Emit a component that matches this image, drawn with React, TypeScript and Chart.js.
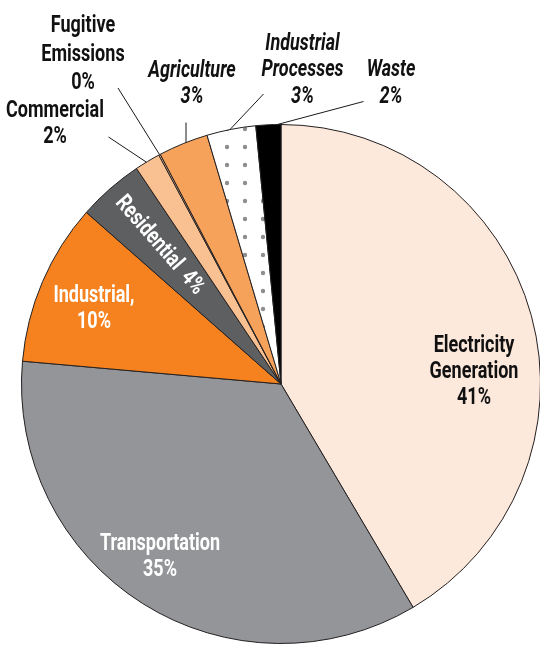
import React, { useEffect, useRef } from "react";
import { Chart, registerables } from "chart.js";

Chart.register(...registerables);

// ---- data ----
const categories = [
  "Electricity Generation",
  "Transportation",
  "Industrial",
  "Residential",
  "Commercial",
  "Fugitive Emissions",
  "Agriculture",
  "Industrial Processes",
  "Waste",
];
const shares = [41.5, 34.9, 10.1, 4.1, 1.6, 0.1, 3.1, 3.05, 1.55];
const percentLabels = ["41%", "35%", "10%", "4%", "2%", "0%", "3%", "3%", "2%"];
const sliceColors = [
  "#fde9dc",
  "#939598",
  "#f5821f",
  "#5e5f61",
  "#f9c092",
  "#f9c092",
  "#f7a25b",
  "pattern",
  "#000000",
];

// ---- label layout (text annotations) ----
type LabelSpec = {
  i: number;
  name: string[];
  x: number;
  y: number;
  lh: number;
  color: string;
  italic?: boolean;
  leader?: { x: number; y: number; t: number };
};
const labelLayout: LabelSpec[] = [
  { i: 0, name: ["Electricity", "Generation"], x: 474, y: 351.7, lh: 26.2, color: "#111111" },
  { i: 1, name: ["Transportation"], x: 160, y: 550, lh: 26, color: "#ffffff" },
  { i: 2, name: ["Industrial,"], x: 94, y: 301.7, lh: 26, color: "#ffffff" },
  { i: 4, name: ["Commercial"], x: 55, y: 117.3, lh: 26, color: "#111111", leader: { x: 108.5, y: 137, t: 0.45 } },
  { i: 5, name: ["Fugitive", "Emissions"], x: 83, y: 31.7, lh: 28.8, color: "#111111", leader: { x: 118, y: 88, t: 0.5 } },
  { i: 6, name: ["Agriculture"], x: 192, y: 76.7, lh: 26.6, color: "#111111", italic: true, leader: { x: 186, y: 122.5, t: 0.56 } },
  { i: 7, name: ["Industrial", "Processes"], x: 302.5, y: 50, lh: 26.4, color: "#111111", italic: true, leader: { x: 263.5, y: 94, t: 0.475 } },
  { i: 8, name: ["Waste"], x: 391, y: 76, lh: 26.7, color: "#111111", italic: true, leader: { x: 363.5, y: 101.5, t: 0.85 } },
];
const rotatedLabel = { i: 3, text: "Residential  4%", rFrac: 0.71, color: "#ffffff" };

const FONT_FAMILY = "Roboto, 'Liberation Sans', sans-serif";
const FONT_SIZE = 23;

function makeDotPattern(): CanvasPattern | string {
  const tile = document.createElement("canvas");
  tile.width = 18;
  tile.height = 18;
  const c = tile.getContext("2d");
  if (!c) return "#ffffff";
  c.fillStyle = "#ffffff";
  c.fillRect(0, 0, 18, 18);
  c.fillStyle = "#8e8e8e";
  c.beginPath();
  c.arc(11, 3, 2.2, 0, Math.PI * 2);
  c.fill();
  const p = c.createPattern(tile, "repeat");
  return p || "#ffffff";
}

const labelsPlugin = {
  id: "pieLabels",
  afterDatasetsDraw(chart: any) {
    const ctx: CanvasRenderingContext2D = chart.ctx;
    const meta = chart.getDatasetMeta(0);
    const arcs = meta.data;
    ctx.save();
    ctx.font = `bold ${FONT_SIZE}px ${FONT_FAMILY}`;
    const sx = 120 / ctx.measureText("Transportation").width;

    const drawText = (s: string, x: number, y: number) => {
      ctx.save();
      ctx.translate(x, y);
      ctx.scale(sx, 1);
      ctx.fillText(s, 0, 0);
      ctx.restore();
    };

    ctx.textAlign = "center";
    ctx.textBaseline = "alphabetic";

    // leader lines
    ctx.strokeStyle = "#1a1a1a";
    ctx.lineWidth = 1;
    for (const L of labelLayout) {
      if (!L.leader) continue;
      const a = arcs[L.i].getProps(["x", "y", "startAngle", "endAngle", "outerRadius"], true);
      const ang = a.startAngle + (a.endAngle - a.startAngle) * L.leader.t;
      const ex = a.x + Math.cos(ang) * a.outerRadius;
      const ey = a.y + Math.sin(ang) * a.outerRadius;
      ctx.beginPath();
      ctx.moveTo(L.leader.x, L.leader.y);
      ctx.lineTo(ex, ey);
      ctx.stroke();
    }

    for (const L of labelLayout) {
      ctx.font = `${L.italic ? "italic " : ""}bold ${FONT_SIZE}px ${FONT_FAMILY}`;
      ctx.fillStyle = L.color;
      const lines = [...L.name, percentLabels[L.i]];
      lines.forEach((s, k) => drawText(s, L.x, L.y + k * L.lh));
    }

    // rotated residential label
    const r = arcs[rotatedLabel.i].getProps(["x", "y", "startAngle", "endAngle", "outerRadius"], true);
    const mid = (r.startAngle + r.endAngle) / 2;
    const rr = r.outerRadius * rotatedLabel.rFrac;
    ctx.save();
    ctx.translate(r.x + Math.cos(mid) * rr, r.y + Math.sin(mid) * rr);
    ctx.rotate(mid + Math.PI);
    ctx.font = `bold ${FONT_SIZE}px ${FONT_FAMILY}`;
    ctx.fillStyle = rotatedLabel.color;
    ctx.textBaseline = "middle";
    ctx.scale(sx, 1);
    ctx.fillText(rotatedLabel.text, 0, 0);
    ctx.restore();

    ctx.restore();
  },
};

export default function App() {
  const ref = useRef<HTMLCanvasElement | null>(null);
  useEffect(() => {
    if (!ref.current) return;
    const pattern = makeDotPattern();
    const colors = sliceColors.map((c) => (c === "pattern" ? pattern : c));
    const chart = new Chart(ref.current, {
      type: "pie",
      data: {
        labels: categories,
        datasets: [
          {
            data: shares,
            backgroundColor: colors as any,
            borderColor: "#231f20",
            borderWidth: 1,
          },
        ],
      },
      options: {
        responsive: false,
        animation: false,
        events: [],
        layout: { padding: { left: 21, right: 21, top: 124, bottom: 4 } },
        plugins: {
          legend: { display: false },
          tooltip: { enabled: false },
        },
      },
      plugins: [labelsPlugin],
    });
    return () => chart.destroy();
  }, []);
  return (
    <div
      style={{
        position: "absolute",
        left: 0,
        top: 0,
        width: 540,
        height: 648,
        overflow: "hidden",
        background: "#ffffff",
      }}
    >
      <canvas ref={ref} width={562} height={648} style={{ display: "block" }} />
    </div>
  );
}
